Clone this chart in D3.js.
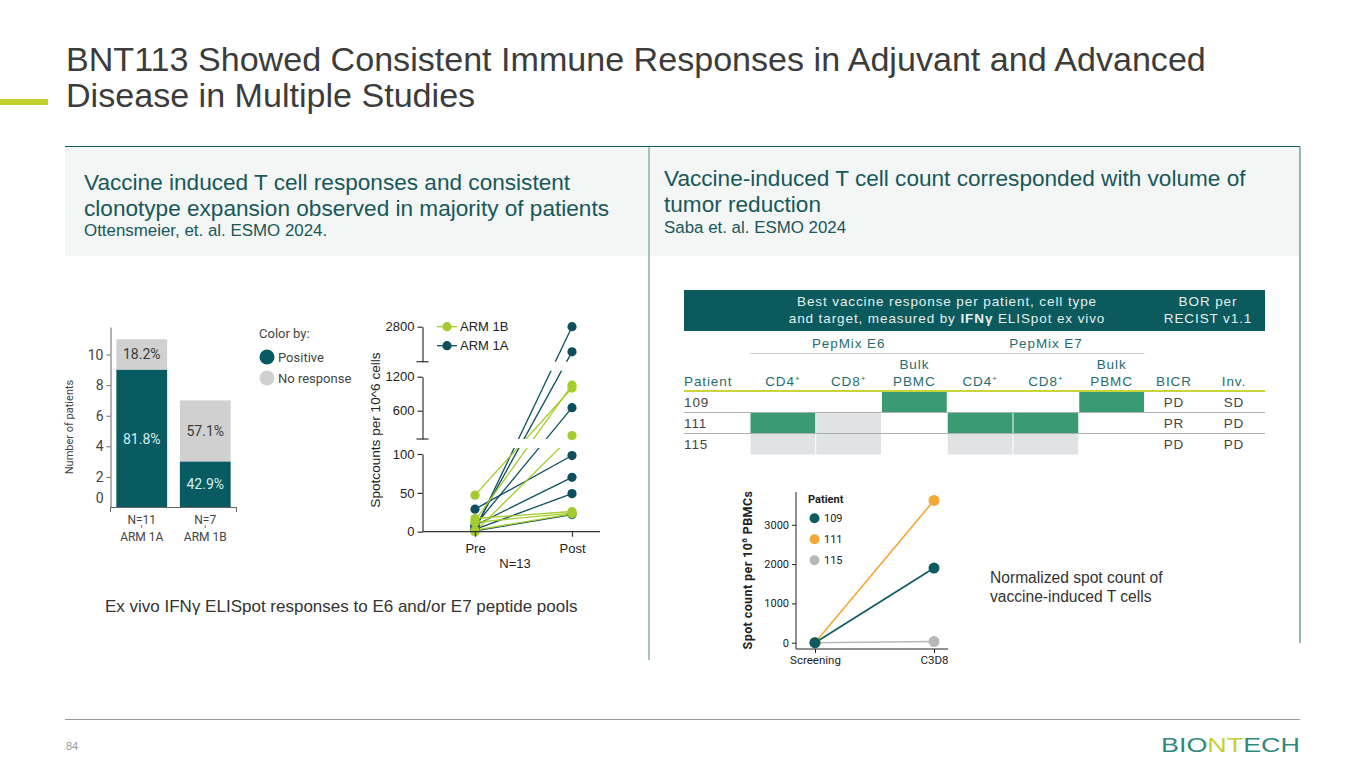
<!DOCTYPE html>
<meta charset="utf-8">
<style>
 body { margin: 0; background: #fff; }
 svg { display: block; }
 text { font-family: "Liberation Sans", Arial, sans-serif; }
 .rb text { font-family: Roboto, sans-serif; }
 .tbl text { font-size: 13.5px; letter-spacing: 0.9px; }
</style>
<body>
<div id="slide"></div>
<script src="https://cdn.jsdelivr.net/npm/d3@7/dist/d3.min.js"></script>
<script>
// ---- data ----
var arms = ["ARM 1A", "ARM 1B"];
var armN = [11, 7];
var armPositive = [9, 3];
var armPosLabel = ["81.8%", "42.9%"];
var armNegLabel = ["18.2%", "57.1%"];
var barTicks = [0, 2, 4, 6, 8, 10];

// spotcounts pre -> post, ARM 1A (teal) and ARM 1B (lime)
var arm1aPre  = [2, 5, 8, 29, 8, 3, 1];
var arm1aPost = [2800, 1650, 653, 98, 70, 49, 22];
var arm1bPre  = [47, 14, 0, 17, 12, 2];
var arm1bPost = [1000, 1050, 160, 26, 24, 23];
var spotTicks = [[0, 50, 100], [600, 1200], [2800]];

// table
var cellCols = ["CD4", "CD8", "Bulk PBMC", "CD4", "CD8", "Bulk PBMC"];
var patients = ["109", "111", "115"];
var cellStatus = [
  ["none", "none", "pos", "none", "none", "pos"],
  ["pos", "neg", "none", "pos", "pos", "none"],
  ["neg", "neg", "none", "neg", "neg", "none"]
];
var bicr = ["PD", "PR", "PD"];
var inv = ["SD", "PD", "PD"];

// normalized spot count
var visits = ["Screening", "C3D8"];
var patientSeries = [
  {id: "109", values: [0, 1900], color: "#0d5a60"},
  {id: "111", values: [0, 3620], color: "#f3a735"},
  {id: "115", values: [0, 30], color: "#b7b7b7"}
];
var normTicks = [0, 1000, 2000, 3000];

var teal = "#13595c", lime = "#c3d130";
var plain = d3.format("d");

(function(){
  var width = 1365, height = 768;
  var svg = d3.select("#slide").append("svg")
      .attr("width", width).attr("height", height);

  // ---- slide frame ----
  svg.append("text").attr("x", 66).attr("y", 71)
     .attr("font-size", 34.1).attr("fill", "#3c3c3c")
     .text("BNT113 Showed Consistent Immune Responses in Adjuvant and Advanced");
  svg.append("text").attr("x", 66).attr("y", 107)
     .attr("font-size", 34.1).attr("fill", "#3c3c3c")
     .text("Disease in Multiple Studies");
  svg.append("rect").attr("x", 0).attr("y", 99).attr("width", 48).attr("height", 6).attr("fill", lime);

  svg.append("rect").attr("x", 65).attr("y", 147).attr("width", 583).attr("height", 109).attr("fill", "#f4f5f5");
  svg.append("rect").attr("x", 650).attr("y", 147).attr("width", 650).attr("height", 109).attr("fill", "#f4f5f5");
  svg.append("line").attr("x1", 65).attr("x2", 1300).attr("y1", 146.5).attr("y2", 146.5).attr("stroke", teal).attr("stroke-width", 1.2);
  svg.append("line").attr("x1", 649).attr("x2", 649).attr("y1", 147).attr("y2", 660).attr("stroke", "#4d8486").attr("stroke-width", 1);
  svg.append("line").attr("x1", 1300).attr("x2", 1300).attr("y1", 147).attr("y2", 643).attr("stroke", "#5e9092").attr("stroke-width", 1.3);

  var hl = [["Vaccine induced T cell responses and consistent", 84, 190],
            ["clonotype expansion observed in majority of patients", 84, 216]];
  var hr = [["Vaccine-induced T cell count corresponded with volume of", 664, 186],
            ["tumor reduction", 664, 212]];
  hl.concat(hr).forEach(function(d){
    svg.append("text").attr("x", d[1]).attr("y", d[2]).attr("font-size", 22.6).attr("fill", "#17585a").text(d[0]);
  });
  svg.append("text").attr("x", 84).attr("y", 236).attr("font-size", 16.9).attr("fill", "#17585a").text("Ottensmeier, et. al. ESMO 2024.");
  svg.append("text").attr("x", 664).attr("y", 233).attr("font-size", 16.9).attr("fill", "#17585a").text("Saba et. al. ESMO 2024");

  svg.append("line").attr("x1", 65).attr("x2", 1300).attr("y1", 719.5).attr("y2", 719.5).attr("stroke", "#9a9a9a");
  svg.append("text").attr("x", 66).attr("y", 750).attr("font-size", 11).attr("fill", "#9a9a9a").text("84");
  var logo = svg.append("text").attr("x", 1161).attr("y", 752).attr("font-size", 20)
     .attr("font-family", "Lato, sans-serif").attr("textLength", 139).attr("lengthAdjust", "spacingAndGlyphs");
  logo.append("tspan").attr("fill", "#2f8a7d").text("BIO");
  logo.append("tspan").attr("fill", lime).text("NT");
  logo.append("tspan").attr("fill", "#2f8a7d").text("ECH");

  svg.append("text").attr("x", 105).attr("y", 612).attr("font-size", 17).attr("fill", "#333")
     .text("Ex vivo IFN\u03b3 ELISpot responses to E6 and/or E7 peptide pools");
  svg.append("text").attr("x", 990).attr("y", 583).attr("font-size", 15.6).attr("fill", "#333").text("Normalized spot count of");
  svg.append("text").attr("x", 990).attr("y", 602).attr("font-size", 15.6).attr("fill", "#333").text("vaccine-induced T cells");

  // ---- stacked bars ----
  var gb = svg.append("g").attr("class", "rb");
  var bx = d3.scaleBand().domain(arms).range([110, 237]).paddingInner(0.2).paddingOuter(0.1);
  var by = d3.scaleLinear().domain([0, 11.8]).range([507.5, 327]);
  arms.forEach(function(a, i){
    gb.append("rect").attr("x", bx(a)).attr("width", bx.bandwidth())
      .attr("y", by(armN[i])).attr("height", by(armPositive[i]) - by(armN[i])).attr("fill", "#d0d0d0");
    gb.append("rect").attr("x", bx(a)).attr("width", bx.bandwidth())
      .attr("y", by(armPositive[i])).attr("height", by(0) - by(armPositive[i])).attr("fill", "#075b61");
    var cx = bx(a) + bx.bandwidth() / 2;
    gb.append("text").attr("x", cx).attr("y", (by(armN[i]) + by(armPositive[i])) / 2).attr("dy", "0.35em")
      .attr("text-anchor", "middle").attr("font-size", 14).attr("fill", "#3a3a3a").text(armNegLabel[i]);
    gb.append("text").attr("x", cx).attr("y", (by(armPositive[i]) + by(0)) / 2).attr("dy", "0.35em")
      .attr("text-anchor", "middle").attr("font-size", 14).attr("fill", "#d6f1f1").text(armPosLabel[i]);
    gb.append("text").attr("x", cx).attr("y", 524).attr("text-anchor", "middle").attr("font-size", 12).attr("fill", "#444").text("N=" + armN[i]);
    gb.append("text").attr("x", cx).attr("y", 541).attr("text-anchor", "middle").attr("font-size", 12).attr("fill", "#444").text(a);
    gb.append("line").attr("x1", cx).attr("x2", cx).attr("y1", 525).attr("y2", 528).attr("stroke", "#777");
  });
  var yAx = gb.append("g").attr("transform", "translate(110.5,0)")
     .call(d3.axisLeft(by).tickValues(barTicks).tickSize(4).tickSizeOuter(0));
  yAx.select(".domain").attr("stroke", "#666");
  yAx.selectAll(".tick line").attr("stroke", "#666");
  yAx.selectAll(".tick text").attr("font-size", 14).attr("fill", "#444").attr("font-family", "Roboto, sans-serif");
  yAx.selectAll(".tick").filter(function(d){ return d === 0; }).select("text").attr("dy", "-0.35em");
  yAx.selectAll(".tick").filter(function(d){ return d === 0; }).select("line").remove();
  gb.append("line").attr("x1", 110).attr("x2", 237).attr("y1", 507.5).attr("y2", 507.5).attr("stroke", "#666");
  [110.5, 236.5].forEach(function(x){
    gb.append("line").attr("x1", x).attr("x2", x).attr("y1", 507.5).attr("y2", 512).attr("stroke", "#666");
  });
  gb.append("text").attr("transform", "translate(73,427) rotate(-90)").attr("text-anchor", "middle")
    .attr("font-size", 11).attr("fill", "#444").text("Number of patients");
  gb.append("text").attr("x", 259).attr("y", 338).attr("font-size", 13).attr("fill", "#444").text("Color by:");
  [["Positive", "#075b61", 357], ["No response", "#d0d0d0", 378]].forEach(function(d){
    gb.append("circle").attr("cx", 267).attr("cy", d[2]).attr("r", 7.5).attr("fill", d[1]);
    gb.append("text").attr("x", 278).attr("y", d[2]).attr("dy", "0.35em").attr("font-size", 13).attr("fill", "#444").text(d[0]);
  });

  // ---- broken-axis spotcounts ----
  var gs = svg.append("g");
  var segs = [
    d3.scaleLinear().domain([0, 100]).range([531.7, 454]),
    d3.scaleLinear().domain([100, 1200]).range([439, 376.7]),
    d3.scaleLinear().domain([1200, 2800]).range([361.7, 326.7])
  ];
  function sy(v){ return v <= 100 ? segs[0](v) : (v <= 1200 ? segs[1](v) : segs[2](v)); }
  var sx = d3.scalePoint().domain(["Pre", "Post"]).range([475, 572]);
  var axX = 422.5;

  var clip = svg.append("defs").append("clipPath").attr("id", "segclip");
  segs.forEach(function(s){
    var r = s.range();
    clip.append("rect").attr("x", axX).attr("y", r[1] - 6).attr("width", 180).attr("height", r[0] - r[1] + (s === segs[0] ? 12 : 6));
  });

  var pairs = [];
  arm1aPre.forEach(function(v, i){ pairs.push({pre: v, post: arm1aPost[i], c: "#0e4f5d"}); });
  arm1bPre.forEach(function(v, i){ pairs.push({pre: v, post: arm1bPost[i], c: "#a5cc2f"}); });
  var lines = gs.append("g").attr("clip-path", "url(#segclip)");
  pairs.forEach(function(p){
    lines.append("line").attr("x1", sx("Pre")).attr("y1", sy(p.pre)).attr("x2", sx("Post")).attr("y2", sy(p.post))
      .attr("stroke", p.c).attr("stroke-width", 1.3);
  });
  pairs.forEach(function(p){
    gs.append("circle").attr("cx", sx("Pre")).attr("cy", sy(p.pre)).attr("r", 4.6).attr("fill", p.c);
    gs.append("circle").attr("cx", sx("Post")).attr("cy", sy(p.post)).attr("r", 4.6).attr("fill", p.c);
  });

  segs.forEach(function(s, i){
    var a = gs.append("g").attr("transform", "translate(" + axX + ",0)")
      .call(d3.axisLeft(s).tickValues(spotTicks[i]).tickFormat(plain).tickSize(5).tickSizeOuter(0));
    a.select(".domain").attr("stroke", "#333").attr("stroke-width", 1.2);
    a.selectAll(".tick line").attr("stroke", "#333").attr("stroke-width", 1.2);
    a.selectAll(".tick text").attr("font-size", 13).attr("fill", "#222").attr("font-family", "Liberation Sans, Arial, sans-serif");
    if (i > 0) {
      gs.append("line").attr("x1", axX - 6).attr("x2", axX + 6).attr("y1", s.range()[0]).attr("y2", s.range()[0])
        .attr("stroke", "#333").attr("stroke-width", 1.2);
    }
  });
  var xa = gs.append("g").attr("transform", "translate(0,531.7)")
    .call(d3.axisBottom(sx).tickSize(5).tickSizeOuter(0));
  xa.select(".domain").attr("d", "M" + axX + ",0H600").attr("stroke", "#333").attr("stroke-width", 1.2);
  xa.selectAll(".tick line").attr("stroke", "#333").attr("stroke-width", 1.2);
  xa.selectAll(".tick text").attr("font-size", 13).attr("fill", "#222").attr("dy", "1em").attr("font-family", "Liberation Sans, Arial, sans-serif");
  gs.append("text").attr("x", 515).attr("y", 568).attr("text-anchor", "middle").attr("font-size", 13).attr("fill", "#222").text("N=13");
  gs.append("text").attr("transform", "translate(380,430) rotate(-90)").attr("text-anchor", "middle")
    .attr("font-size", 13.6).attr("fill", "#222").text("Spotcounts per 10^6 cells");
  [["ARM 1B", "#a5cc2f", 326.7], ["ARM 1A", "#0e4f5d", 345.7]].forEach(function(d){
    gs.append("line").attr("x1", 437).attr("x2", 457).attr("y1", d[2]).attr("y2", d[2]).attr("stroke", d[1]).attr("stroke-width", 1.3);
    gs.append("circle").attr("cx", 447).attr("cy", d[2]).attr("r", 4.6).attr("fill", d[1]);
    gs.append("text").attr("x", 460).attr("y", d[2]).attr("dy", "0.35em").attr("font-size", 13).attr("fill", "#222").text(d[0]);
  });

  // ---- table ----
  var gt = svg.append("g").attr("class", "tbl");
  var hdrCol = "#1f6d6f", bodyCol = "#444";
  gt.append("rect").attr("x", 684).attr("y", 290).attr("width", 581).attr("height", 41).attr("fill", "#0b5a5e");
  gt.append("text").attr("x", 947).attr("y", 306).attr("text-anchor", "middle").attr("fill", "#e8eeee")
    .text("Best vaccine response per patient, cell type");
  var l2 = gt.append("text").attr("x", 947).attr("y", 323).attr("text-anchor", "middle").attr("fill", "#e8eeee");
  l2.append("tspan").text("and target, measured by ");
  l2.append("tspan").attr("font-weight", "bold").text("IFN\u03b3");
  l2.append("tspan").text(" ELISpot ex vivo");
  gt.append("text").attr("x", 1208).attr("y", 306).attr("text-anchor", "middle").attr("fill", "#e8eeee").text("BOR per");
  gt.append("text").attr("x", 1208).attr("y", 323).attr("text-anchor", "middle").attr("fill", "#e8eeee").text("RECIST v1.1");

  var cx = d3.scaleBand().domain(d3.range(cellCols.length)).range([750, 1144.5]);
  var ry = d3.scaleBand().domain(patients).range([391.5, 454.5]);
  gt.append("text").attr("x", cx(1) + cx.bandwidth() / 2).attr("y", 348).attr("text-anchor", "middle").attr("fill", hdrCol).text("PepMix E6");
  gt.append("text").attr("x", cx(4) + cx.bandwidth() / 2).attr("y", 348).attr("text-anchor", "middle").attr("fill", hdrCol).text("PepMix E7");
  gt.append("line").attr("x1", 750).attr("x2", 1144.5).attr("y1", 353.5).attr("y2", 353.5).attr("stroke", "#cfcfcf");

  gt.append("text").attr("x", 684).attr("y", 386).attr("fill", hdrCol).text("Patient");
  cellCols.forEach(function(c, i){
    var x = cx(i) + cx.bandwidth() / 2;
    if (c === "Bulk PBMC") {
      gt.append("text").attr("x", x).attr("y", 369).attr("text-anchor", "middle").attr("fill", hdrCol).text("Bulk");
      gt.append("text").attr("x", x).attr("y", 386).attr("text-anchor", "middle").attr("fill", hdrCol).text("PBMC");
    } else {
      var t = gt.append("text").attr("x", x).attr("y", 386).attr("text-anchor", "middle").attr("fill", hdrCol);
      t.append("tspan").text(c);
      t.append("tspan").attr("font-size", 8).attr("dy", -5).text("+");
    }
  });
  gt.append("text").attr("x", 1174).attr("y", 386).attr("text-anchor", "middle").attr("fill", hdrCol).text("BICR");
  gt.append("text").attr("x", 1234).attr("y", 386).attr("text-anchor", "middle").attr("fill", hdrCol).text("Inv.");

  var fills = {pos: "#3a9a72", neg: "#e0e2e4"};
  patients.forEach(function(p, r){
    cellStatus[r].forEach(function(s, i){
      if (s === "none") return;
      gt.append("rect").attr("x", cx(i) + 0.5).attr("y", ry(p)).attr("width", cx.bandwidth() - 1)
        .attr("height", ry.bandwidth()).attr("fill", fills[s]);
    });
    var yc = ry(p) + ry.bandwidth() / 2;
    gt.append("text").attr("x", 684).attr("y", yc).attr("dy", "0.35em").attr("fill", bodyCol).text(p);
    gt.append("text").attr("x", 1174).attr("y", yc).attr("dy", "0.35em").attr("text-anchor", "middle").attr("fill", bodyCol).text(bicr[r]);
    gt.append("text").attr("x", 1234).attr("y", yc).attr("dy", "0.35em").attr("text-anchor", "middle").attr("fill", bodyCol).text(inv[r]);
  });
  gt.append("line").attr("x1", 684).attr("x2", 1265).attr("y1", 391).attr("y2", 391).attr("stroke", "#c9d43a").attr("stroke-width", 2.2);
  patients.slice(1).forEach(function(p){
    gt.append("line").attr("x1", 684).attr("x2", 1265).attr("y1", ry(p)).attr("y2", ry(p)).attr("stroke", "#b0b0b0");
  });

  // ---- normalized spot count chart ----
  var gn = svg.append("g").attr("class", "rb");
  var nx = d3.scalePoint().domain(visits).range([815, 934]);
  var ny = d3.scaleLinear().domain([0, 3834]).range([642.7, 492]);
  var line = d3.line().x(function(d, i){ return nx(visits[i]); }).y(function(d){ return ny(d); });
  patientSeries.slice().reverse().forEach(function(s){
    gn.append("path").attr("d", line(s.values)).attr("fill", "none").attr("stroke", s.color).attr("stroke-width", 1.6);
  });
  patientSeries.slice().reverse().forEach(function(s){
    s.values.forEach(function(v, i){
      gn.append("circle").attr("cx", nx(visits[i])).attr("cy", ny(v)).attr("r", 5.5).attr("fill", s.color);
    });
  });
  var ay = gn.append("g").attr("transform", "translate(796,0)")
    .call(d3.axisLeft(ny).tickValues(normTicks).tickFormat(plain).tickSize(4).tickSizeOuter(0));
  ay.select(".domain").attr("d", "M0,492V649").attr("stroke", "#222");
  ay.selectAll(".tick line").attr("stroke", "#222");
  ay.selectAll(".tick text").attr("font-size", 11).attr("fill", "#222");
  var ax = gn.append("g").attr("transform", "translate(0,649)")
    .call(d3.axisBottom(nx).tickSize(4).tickSizeOuter(0));
  ax.select(".domain").attr("d", "M796,0H948").attr("stroke", "#222");
  ax.selectAll(".tick line").attr("stroke", "#222");
  ax.selectAll(".tick text").attr("font-size", 11.5).attr("fill", "#222");
  var yt = gn.append("text").attr("transform", "translate(752,570) rotate(-90)").attr("text-anchor", "middle")
    .attr("font-size", 12.5).attr("font-weight", "bold").attr("fill", "#222").attr("letter-spacing", 0.4);
  yt.append("tspan").text("Spot count per 10");
  yt.append("tspan").attr("font-size", 8).attr("dy", -5).text("6");
  yt.append("tspan").attr("dy", 5).text(" PBMCs");
  gn.append("text").attr("x", 808).attr("y", 499).attr("dy", "0.35em").attr("font-size", 11).attr("font-weight", "bold").attr("fill", "#222").text("Patient");
  patientSeries.forEach(function(s, i){
    var y = 518.3 + i * 21;
    gn.append("circle").attr("cx", 814.5).attr("cy", y).attr("r", 5).attr("fill", s.color);
    gn.append("text").attr("x", 824).attr("y", y).attr("dy", "0.35em").attr("font-size", 11).attr("fill", "#222").text(s.id);
  });
})();
</script>
</body>
